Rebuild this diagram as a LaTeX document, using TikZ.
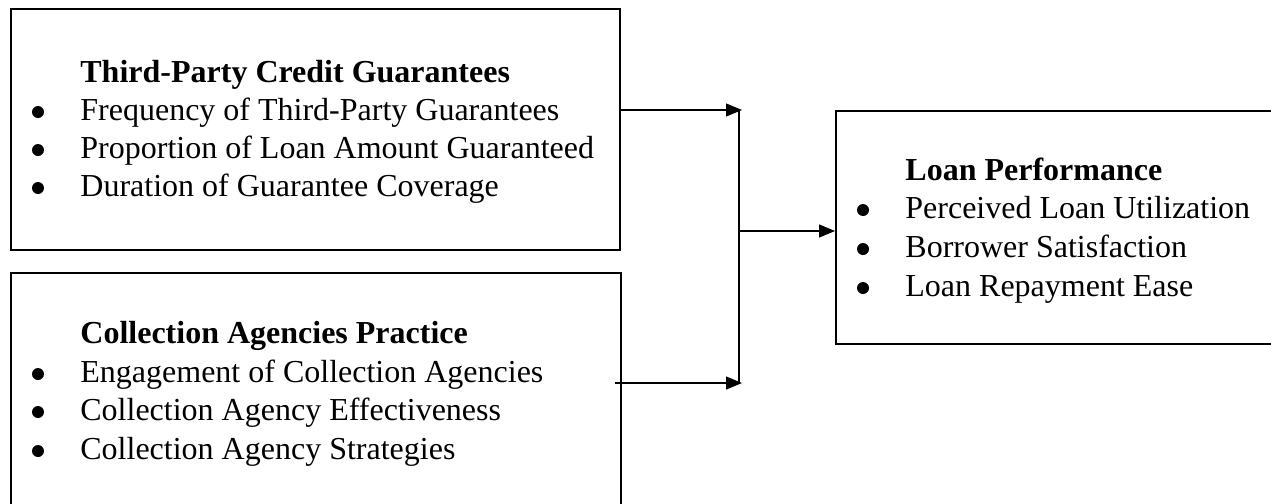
\documentclass[tikz,border=0pt]{standalone}
\usepackage{fontspec}
\setmainfont{Liberation Serif}
\usetikzlibrary{arrows.meta}
\begin{document}
\begin{tikzpicture}[x=0.5pt,y=-0.5pt,
  box/.style={draw, line width=1.2pt, rectangle, inner sep=0pt, anchor=north west},
  txt/.style={anchor=base west, inner sep=0pt, font=\fontsize{16}{19}\selectfont},
  hd/.style={anchor=base west, inner sep=0pt, font=\fontsize{16}{19}\selectfont\bfseries},
  dot/.style={circle, fill, inner sep=0pt, minimum size=6pt},
  conn/.style={line width=0.55pt},
  arr/.style={conn, -{Triangle[length=8pt,width=6.5pt]}}]
\useasboundingbox (0,0) rectangle (1271,504);

% boxes
\node[box, minimum width=304.5pt, minimum height=120.5pt] (b1) at (10,8) {};
\node[box, minimum width=305pt, minimum height=124pt] (b2) at (10,272) {};
\node[box, minimum width=219pt, minimum height=116.5pt] (b3) at (835,110) {};

% box 1 text
\node[hd]  (h1)  at (80,82)  {Third-Party Credit Guarantees};
\node[txt] (l1a) at (80,120) {Frequency of Third-Party Guarantees};
\node[txt] (l1b) at (80,158) {Proportion of Loan Amount Guaranteed};
\node[txt] (l1c) at (80,196) {Duration of Guarantee Coverage};
\node[dot] (d1a) at (38,112) {};
\node[dot] (d1b) at (38,150) {};
\node[dot] (d1c) at (38,188) {};

% box 2 text
\node[hd]  (h2)  at (80,343) {Collection Agencies Practice};
\node[txt] (l2a) at (80,382) {Engagement of Collection Agencies};
\node[txt] (l2b) at (80,420) {Collection Agency Effectiveness};
\node[txt] (l2c) at (80,459) {Collection Agency Strategies};
\node[dot] (d2a) at (38,374) {};
\node[dot] (d2b) at (38,412) {};
\node[dot] (d2c) at (38,451) {};

% box 3 text
\node[hd]  (h3)  at (905,180) {Loan Performance};
\node[txt] (l3a) at (905,218) {Perceived Loan Utilization};
\node[txt] (l3b) at (905,257) {Borrower Satisfaction};
\node[txt] (l3c) at (905,296) {Loan Repayment Ease};
\node[dot] (d3a) at (863,210) {};
\node[dot] (d3b) at (863,249) {};
\node[dot] (d3c) at (863,288) {};

% connectors
\coordinate (t1) at (742,110);
\coordinate (t2) at (742,383);
\coordinate (s2) at (615,383);
\coordinate (v1) at (739,110);
\coordinate (v2) at (739,383);
\coordinate (vm) at (739,231);
\draw[arr] (b1.east |- t1) -- (t1);
\draw[arr] (s2) -- (t2);
\draw[conn] (v1) -- (v2);
\draw[arr] (vm) -- (b3.west |- vm);
\end{tikzpicture}
\end{document}
